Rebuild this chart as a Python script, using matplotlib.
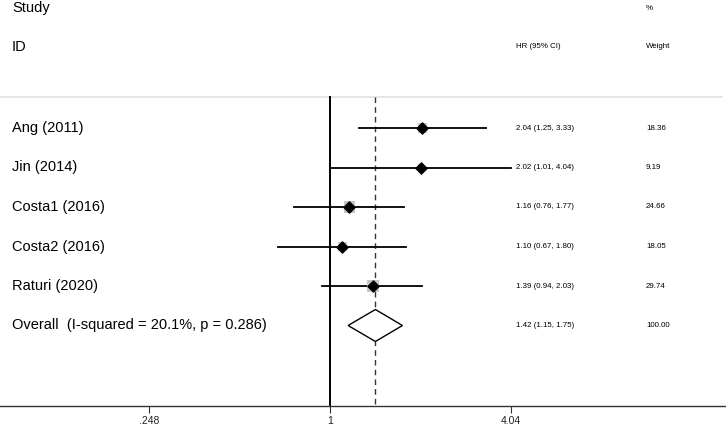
import numpy as np
import matplotlib
matplotlib.use("Agg")
from matplotlib import pyplot as plt
from matplotlib.transforms import blended_transform_factory

studies = ["Ang (2011)", "Jin (2014)", "Costa1 (2016)", "Costa2 (2016)", "Raturi (2020)"]
hr = [2.04, 2.02, 1.16, 1.10, 1.39]
ci_low = [1.25, 1.01, 0.76, 0.67, 0.94]
ci_high = [3.33, 4.04, 1.77, 1.80, 2.03]
weights = [18.36, 9.19, 24.66, 18.05, 29.74]
overall_label = "Overall  (I-squared = 20.1%, p = 0.286)"
overall_hr, overall_low, overall_high, overall_weight = 1.42, 1.15, 1.75, 100.00
tick_values = [0.248, 1, 4.04]
tick_labels = [".248", "1", "4.04"]

plt.rcParams['font.family'] = ['Liberation Sans', 'DejaVu Sans']

fig = plt.figure(figsize=(7.26, 4.29), dpi=100)
ax = fig.add_axes([0, 0, 1, 1])
ax.set_xscale('log')
# pixel x = 330 + 129.5 * ln(v)
ax.set_xlim(np.exp(-330 / 129.5), np.exp((726 - 330) / 129.5))
ax.set_ylim(429, 0)
for s in ["top", "right", "left"]:
    ax.spines[s].set_visible(False)
ax.spines['bottom'].set_position(('data', 406))
ax.spines['bottom'].set_color('#333333')
ax.spines['bottom'].set_linewidth(1.0)
ax.set_yticks([])
ax.set_xticks(tick_values)
ax.set_xticklabels(tick_labels)
ax.minorticks_off()
ax.tick_params(axis='x', direction='out', length=5, width=0.8, color='#333333',
               labelsize=7.5, pad=2, labelcolor='#222222')
for lbl in ax.get_xticklabels():
    lbl.set_family(['Liberation Sans Narrow', 'Liberation Sans'])

tr = blended_transform_factory(ax.transAxes, ax.transData)

# headers
ax.text(12 / 726, 8, "Study", transform=tr, fontsize=10.5, va='center', ha='left')
ax.text(12 / 726, 47, "ID", transform=tr, fontsize=10.5, va='center', ha='left')
ax.text(516 / 726, 47, "HR (95% CI)", transform=tr, fontsize=5.7, va='center', ha='left')
ax.text(646 / 726, 8, "%", transform=tr, fontsize=5.7, va='center', ha='left')
ax.text(646 / 726, 47, "Weight", transform=tr, fontsize=5.7, va='center', ha='left')

ax.plot([0, 722 / 726], [97, 97], transform=tr, color='#e2e2e2', lw=1.2)

# reference lines
ax.plot([1, 1], [97, 406], color='black', lw=1.4, zorder=2)
ax.plot([overall_hr, overall_hr], [97, 406], color='#333333', lw=1.0,
        linestyle=(0, (4, 3)), zorder=2)

row_y = 128 + 39.5 * np.arange(len(studies) + 1)

for i, name in enumerate(studies):
    y = row_y[i]
    ax.text(12 / 726, y, name, transform=tr, fontsize=10.5, va='center', ha='left')
    ax.plot([ci_low[i], ci_high[i]], [y, y], color='black', lw=1.3, zorder=3)
    ax.scatter([hr[i]], [y], marker='s', s=weights[i] * 2.6, color='#c8c8c8',
               edgecolors='none', zorder=4)
    ax.scatter([hr[i]], [y], marker='D', s=32, color='black', zorder=5)
    ax.text(516 / 726, y, f"{hr[i]:.2f} ({ci_low[i]:.2f}, {ci_high[i]:.2f})",
            transform=tr, fontsize=5.7, va='center', ha='left')
    ax.text(646 / 726, y, f"{weights[i]:.2f}", transform=tr, fontsize=5.7,
            va='center', ha='left')

y = row_y[-1]
ax.text(12 / 726, y, overall_label, transform=tr, fontsize=10.5, va='center', ha='left')
ax.fill([overall_low, overall_hr, overall_high, overall_hr],
        [y, y - 16, y, y + 16], facecolor='white', edgecolor='black', lw=1.0, zorder=4)
ax.text(516 / 726, y, f"{overall_hr:.2f} ({overall_low:.2f}, {overall_high:.2f})",
        transform=tr, fontsize=5.7, va='center', ha='left')
ax.text(646 / 726, y, f"{overall_weight:.2f}", transform=tr, fontsize=5.7,
        va='center', ha='left')

fig.savefig("out.png", dpi=100, facecolor='white')
